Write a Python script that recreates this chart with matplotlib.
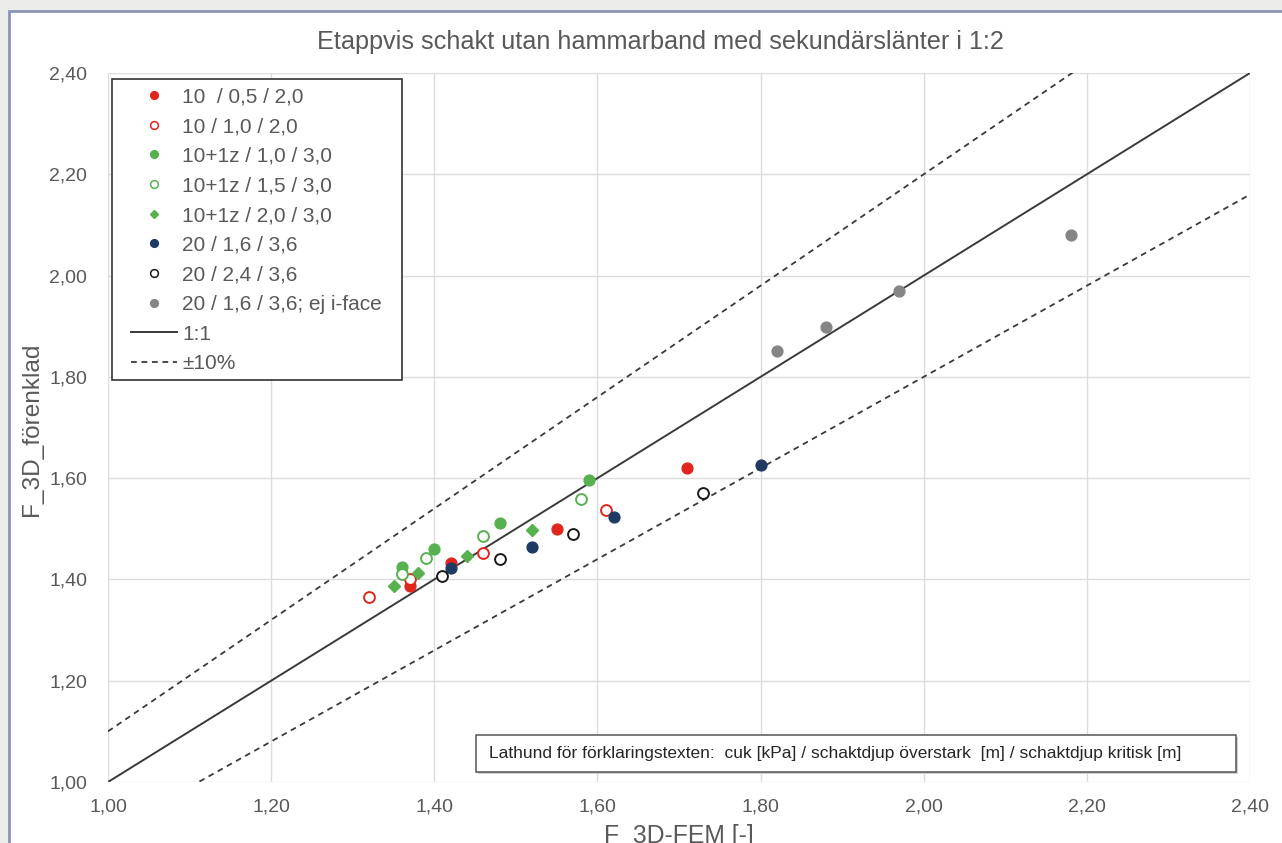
import numpy as np
import matplotlib
matplotlib.use("Agg")
import matplotlib.pyplot as plt
from matplotlib.patches import Rectangle
from matplotlib.lines import Line2D

plt.rcParams['font.family'] = ['Liberation Sans', 'DejaVu Sans']

# ---- data ----
title = "Etappvis schakt utan hammarband med sekundärslänter i 1:2"
xlabel = "F_3D-FEM [-]"
ylabel = "F_3D_förenklad"
note = "Lathund för förklaringstexten:  cuk [kPa] / schaktdjup överstark  [m] / schaktdjup kritisk [m]"

labels = ["10  / 0,5 / 2,0", "10 / 1,0 / 2,0", "10+1z / 1,0 / 3,0", "10+1z / 1,5 / 3,0",
          "10+1z / 2,0 / 3,0", "20 / 1,6 / 3,6", "20 / 2,4 / 3,6", "20 / 1,6 / 3,6; ej i-face"]

x_s1 = [1.37, 1.42, 1.55, 1.71]
y_s1 = [1.388, 1.433, 1.500, 1.620]
x_s2 = [1.32, 1.37, 1.46, 1.61]
y_s2 = [1.365, 1.400, 1.452, 1.538]
x_s3 = [1.36, 1.40, 1.48, 1.59]
y_s3 = [1.425, 1.460, 1.512, 1.596]
x_s4 = [1.36, 1.39, 1.46, 1.58]
y_s4 = [1.410, 1.443, 1.486, 1.558]
x_s5 = [1.35, 1.38, 1.44, 1.52]
y_s5 = [1.388, 1.412, 1.446, 1.498]
x_s6 = [1.42, 1.52, 1.62, 1.80]
y_s6 = [1.423, 1.464, 1.524, 1.625]
x_s7 = [1.41, 1.48, 1.57, 1.73]
y_s7 = [1.406, 1.440, 1.490, 1.570]
x_s8 = [1.82, 1.88, 1.97, 2.18]
y_s8 = [1.852, 1.898, 1.969, 2.081]

line_x = [1.0, 2.4]
ratio_1to1 = 1.0
ratio_plus = 1.1
ratio_minus = 0.9

x_ticks = [1.0, 1.2, 1.4, 1.6, 1.8, 2.0, 2.2, 2.4]
y_ticks = [1.0, 1.2, 1.4, 1.6, 1.8, 2.0, 2.2, 2.4]

# ---- figure ----
W, H = 1282, 843
fig = plt.figure(figsize=(W / 100, H / 100), dpi=100, facecolor="#ECECE8")

# white panel with blue-grey border (left/top)
panel = Rectangle((9 / W, -0.2), 1.5, 1.2 - 11 / H, transform=fig.transFigure,
                  facecolor="white", edgecolor="#8A94B5", linewidth=2.0, zorder=-5)
fig.patches.append(panel)

L, R, B, T = 108, 1250, 782, 73
ax = fig.add_axes([L / W, 1 - B / H, (R - L) / W, (B - T) / H])
ax.set_zorder(1)
ax.set_facecolor("none")
ax.set_xlim(1.0, 2.4)
ax.set_ylim(1.0, 2.4)
ax.set_xticks(x_ticks)
ax.set_yticks(y_ticks)
fmt = lambda v: f"{v:.2f}".replace(".", ",")
ax.set_xticklabels([fmt(v) for v in x_ticks])
ax.set_yticklabels([fmt(v) for v in y_ticks])
ax.tick_params(length=0, labelsize=14, colors="#595959")
ax.tick_params(axis="y", pad=15)
ax.tick_params(axis="x", pad=12)
ax.grid(True, color="#DCDCDC", linewidth=1.0, zorder=0)
for s in ax.spines.values():
    s.set_visible(False)
ax.set_axisbelow(True)

lx = np.array(line_x)
ax.plot(lx, ratio_1to1 * lx, color="#3A3A3A", lw=1.4, zorder=2)
ax.plot(lx, ratio_plus * lx, color="#3A3A3A", lw=1.3, ls=(0, (3.2, 2.6)), zorder=2)
ax.plot(lx, ratio_minus * lx, color="#3A3A3A", lw=1.3, ls=(0, (3.2, 2.6)), zorder=2)

red = "#E3261C"
green = "#57B14F"
navy = "#1F3B64"
grey = "#858585"
ms = 7.8
ax.plot(x_s1, y_s1, ls="none", marker="o", ms=ms, mfc=red, mec=red, zorder=3)
ax.plot(x_s2, y_s2, ls="none", marker="o", ms=ms, mfc="white", mec=red, mew=1.4, zorder=3)
ax.plot(x_s3, y_s3, ls="none", marker="o", ms=ms, mfc=green, mec=green, zorder=3)
ax.plot(x_s4, y_s4, ls="none", marker="o", ms=ms, mfc="white", mec=green, mew=1.4, zorder=3)
ax.plot(x_s5, y_s5, ls="none", marker="D", ms=5.8, mfc=green, mec=green, zorder=3)
ax.plot(x_s6, y_s6, ls="none", marker="o", ms=ms, mfc=navy, mec=navy, zorder=3)
ax.plot(x_s7, y_s7, ls="none", marker="o", ms=ms, mfc="white", mec="#1A1A1A", mew=1.4, zorder=3)
ax.plot(x_s8, y_s8, ls="none", marker="o", ms=ms, mfc=grey, mec=grey, zorder=3)

lms = 5.6
handles = [
    Line2D([], [], ls="none", marker="o", ms=lms, mfc=red, mec=red),
    Line2D([], [], ls="none", marker="o", ms=lms, mfc="white", mec=red, mew=1.1),
    Line2D([], [], ls="none", marker="o", ms=lms, mfc=green, mec=green),
    Line2D([], [], ls="none", marker="o", ms=lms, mfc="white", mec=green, mew=1.1),
    Line2D([], [], ls="none", marker="D", ms=4.2, mfc=green, mec=green),
    Line2D([], [], ls="none", marker="o", ms=lms, mfc=navy, mec=navy),
    Line2D([], [], ls="none", marker="o", ms=lms, mfc="white", mec="#1A1A1A", mew=1.1),
    Line2D([], [], ls="none", marker="o", ms=lms, mfc=grey, mec=grey),
    Line2D([], [], color="#3A3A3A", lw=1.4),
    Line2D([], [], color="#3A3A3A", lw=1.3, ls=(0, (3.2, 2.6))),
]
leg_labels = labels + ["1:1", "±10%"]

# legend frame drawn separately (exact box), legend content without frame
lf_x0, lf_x1, lf_y0, lf_y1 = 112, 402, 79, 380
legframe = Rectangle((lf_x0 / W, 1 - lf_y1 / H), (lf_x1 - lf_x0) / W, (lf_y1 - lf_y0) / H,
                     transform=fig.transFigure, facecolor="white", edgecolor="#333333",
                     lw=1.2, zorder=4, clip_on=False)
ax.add_patch(legframe)
leg = ax.legend(handles, leg_labels, loc="upper left",
                bbox_to_anchor=((131 - L) / (R - L), (B - 87.5) / (B - T)),
                borderaxespad=0, fontsize=15, frameon=False, labelspacing=0.51,
                handlelength=2.2, handletextpad=0.25, borderpad=0,
                labelcolor="#595959")
leg.set_zorder(5)

# texts
fig.text(660 / W, 1 - 42 / H, title, ha="center", va="center", fontsize=18.2, color="#595959")
fig.text(32 / W, 1 - 429 / H, ylabel, ha="center", va="center", rotation=90, fontsize=17.6, color="#595959")
fig.text(679 / W, 1 - 836 / H, xlabel, ha="center", va="center", fontsize=17.8, color="#595959")

# note box with slight shadow
bx0, bx1, by0, by1 = 476, 1236, 735, 772
shadow = Rectangle(((bx0 + 2) / W, 1 - (by1 + 2) / H), (bx1 - bx0) / W, (by1 - by0) / H,
                   transform=fig.transFigure, facecolor="#CFCFCF", edgecolor="none", zorder=6)
box = Rectangle((bx0 / W, 1 - by1 / H), (bx1 - bx0) / W, (by1 - by0) / H,
                transform=fig.transFigure, facecolor="white", edgecolor="#555555", lw=1.1, zorder=7)
fig.patches.extend([shadow, box])
fig.text(489 / W, 1 - 753.5 / H, note, ha="left", va="center", fontsize=12.5, color="#262626", zorder=8)

fig.savefig("out.png", dpi=100, facecolor=fig.get_facecolor())
